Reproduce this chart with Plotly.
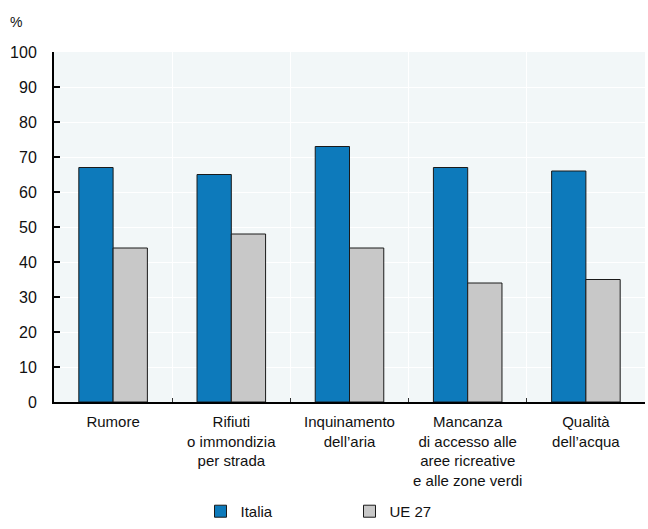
import plotly.graph_objects as go

categories = ["Rumore", "Rifiuti<br>o immondizia<br>per strada", "Inquinamento<br>dell\u2019aria",
              "Mancanza<br>di accesso alle<br>aree ricreative<br>e alle zone verdi",
              "Qualit\u00e0<br>dell\u2019acqua"]
italia = [67, 65, 73, 67, 66]
ue27 = [44, 48, 44, 34, 35]
yticks = [0, 10, 20, 30, 40, 50, 60, 70, 80, 90, 100]

FONT = "Liberation Sans Narrow, Arial Narrow, Liberation Sans, Arial, sans-serif"

fig = go.Figure()
fig.add_trace(go.Bar(x=categories, y=italia, name="Italia",
                     marker=dict(color="#0d7abb", line=dict(color="#1a1a1a", width=1))))
fig.add_trace(go.Bar(x=categories, y=ue27, name="UE 27",
                     marker=dict(color="#c8c8c8", line=dict(color="#1a1a1a", width=1))))

fig.update_layout(
    width=648, height=529,
    margin=dict(l=54, r=3, t=52, b=126),
    paper_bgcolor="white",
    plot_bgcolor="#f2f7f8",
    barmode="group",
    bargap=0.42,
    bargroupgap=0,
    font=dict(family=FONT, size=14, color="#111111"),
    showlegend=True,
    legend=dict(orientation="h", x=0.50, xanchor="center", y=-0.356, yanchor="bottom",
                font=dict(size=15), itemwidth=30, entrywidth=104, entrywidthmode="pixels",
                bgcolor="rgba(0,0,0,0)"),
    xaxis=dict(tickson="boundaries", ticks="inside", ticklen=4, tickcolor="#333",
               showgrid=True, gridcolor="#ffffff", gridwidth=1,
               showline=True, linecolor="black", linewidth=2,
               automargin=False, tickangle=0, ticklabelstandoff=5,
               tickfont=dict(size=15)),
    yaxis=dict(range=[0, 100], tickvals=yticks, ticks="inside", ticklen=6,
               tickcolor="black", tickwidth=2, ticklabelstandoff=12,
               showline=True, linecolor="black", linewidth=2,
               showgrid=True, gridcolor="#ffffff", gridwidth=1,
               automargin=False,
               zeroline=False, tickfont=dict(size=16)),
    annotations=[dict(text="%", xref="paper", yref="paper", x=-0.065, y=1.085,
                      xanchor="center", yanchor="middle", showarrow=False,
                      font=dict(size=14))],
)

fig.write_html("out.html")
